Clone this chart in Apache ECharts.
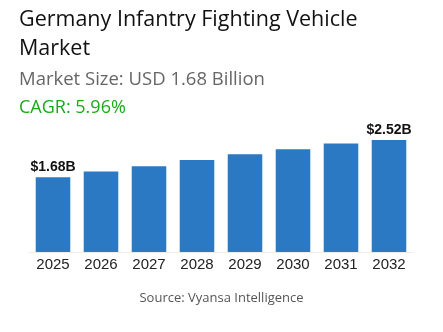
<!DOCTYPE html>
<html><head><meta charset="utf-8">
<script src="https://cdn.jsdelivr.net/npm/echarts@6/dist/echarts.min.js"></script>
<style>html,body{margin:0;padding:0;background:#fff}#c{width:443px;height:332px}</style>
</head><body><div id="c"></div>
<script>
const categories = ['2025','2026','2027','2028','2029','2030','2031','2032'];
const values = [1.68, 1.81, 1.93, 2.07, 2.20, 2.31, 2.44, 2.52];
const labelText = ['$1.68B','','','','','','','$2.52B'];

const chart = echarts.init(document.getElementById('c'));
chart.setOption({
  animation: false,
  title: [
    {text: 'Germany Infantry Fighting Vehicle\nMarket', left: 14, top: 0,
     textStyle: {fontFamily: 'Open Sans', fontSize: 21.5, fontWeight: 'normal', color: '#111', lineHeight: 29}},
    {text: 'Market Size: USD 1.68 Billion', left: 14, top: 65,
     textStyle: {fontFamily: 'Open Sans', fontSize: 18.5, fontWeight: 'normal', color: '#666'}},
    {text: 'CAGR: 5.96%', left: 14, top: 94,
     textStyle: {fontFamily: 'Open Sans', fontSize: 18, fontWeight: 'normal', color: '#1aaa1a'}},
    {text: 'Source: Vyansa Intelligence', left: 'center', top: 287,
     textStyle: {fontFamily: 'Open Sans', fontSize: 13, fontWeight: 'normal', color: '#555'}}
  ],
  grid: {left: 29, right: 30, top: 120, bottom: 80, containLabel: false},
  xAxis: {
    type: 'category', data: categories,
    axisLine: {show: true, lineStyle: {color: '#eee'}},
    axisTick: {show: false},
    axisLabel: {fontFamily: 'Liberation Sans', fontSize: 15, color: '#222', margin: 5}
  },
  yAxis: {type: 'value', min: 0, max: 2.97, show: false, splitLine: {show: false}},
  series: [{
    type: 'bar', data: values, barWidth: '72%',
    itemStyle: {color: '#2b79c2'},
    label: {show: true, position: 'top', distance: 3,
      fontFamily: 'Liberation Sans', fontSize: 14, fontWeight: 'bold', color: '#111',
      formatter: p => labelText[p.dataIndex]}
  }]
});
</script></body></html>
